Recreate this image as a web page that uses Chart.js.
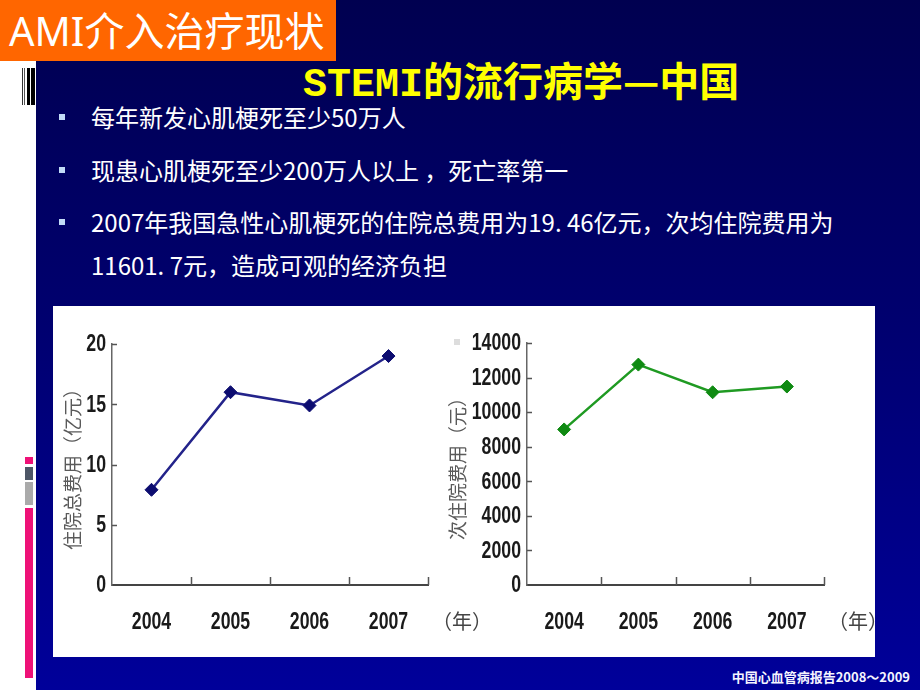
<!DOCTYPE html>
<html>
<head>
<meta charset="utf-8">
<script src="https://cdn.jsdelivr.net/npm/chart.js@4.4.1/dist/chart.umd.min.js"></script>
<style>
  html, body { margin: 0; padding: 0; }
  body { width: 920px; height: 690px; position: relative; overflow: hidden; background: #fff;
         font-family: "Noto Sans CJK SC", sans-serif; }
  .abs { position: absolute; }
  #bg { left: 36px; top: 0; width: 884px; height: 690px;
        background: linear-gradient(to bottom, #000050 0%, #00006e 45%, #00009a 100%); }
  #tag { left: 0; top: 0; width: 336px; height: 61px; background: #ff6600; color: #fff;
         font-family: "Noto Sans", "Noto Sans CJK SC", sans-serif; font-size: 40px; line-height: 61px;
         padding-left: 9px; box-sizing: border-box; white-space: nowrap; }
  #title { left: 303px; top: 56px; color: #ffff00; font-size: 40px; line-height: 46px; font-weight: bold;
           white-space: nowrap; }
  #title .mono { font-family: "Liberation Mono", monospace; }
  .bullet { left: 59px; width: 6px; height: 6px; background: #c2dbf7; }
  .line { left: 91px; color: #fff; font-size: 24px; line-height: 30px; white-space: nowrap; }
  #panel { left: 53px; top: 306px; width: 822px; height: 351px; background: #fff; }
  #src { right: 10px; top: 668px; color: #f4f4ff; font-size: 13px; font-weight: bold; line-height: 18px; }
  .bar { position: absolute; }
</style>
</head>
<body>
<div id="bg" class="abs"></div>
<div id="tag" class="abs">AMI介入治疗现状</div>

<!-- left strip decorations -->
<div class="bar" style="left:22px;top:68px;width:1px;height:37px;background:#333"></div>
<div class="bar" style="left:24px;top:68px;width:1px;height:37px;background:#555"></div>
<div class="bar" style="left:27px;top:68px;width:3px;height:37px;background:#000"></div>
<div class="bar" style="left:31px;top:68px;width:4px;height:37px;background:#000"></div>
<div class="bar" style="left:25px;top:457px;width:8px;height:7px;background:#ee1177"></div>
<div class="bar" style="left:25px;top:467px;width:8px;height:13px;background:#4d5666"></div>
<div class="bar" style="left:25px;top:482px;width:8px;height:23px;background:#aaaaaa"></div>
<div class="bar" style="left:25px;top:508px;width:8px;height:170px;background:#ee1177"></div>

<div id="title" class="abs"><span class="mono">STEMI</span>的流行病学—中国</div>

<div class="abs bullet" style="top:114px"></div>
<div class="abs line" style="top:102px">每年新发心肌梗死至少50万人</div>
<div class="abs bullet" style="top:167px"></div>
<div class="abs line" style="top:155px">现患心肌梗死至少200万人以上 ，死亡率第一</div>
<div class="abs bullet" style="top:219px"></div>
<div class="abs line" style="top:207px">2007年我国急性心肌梗死的住院总费用为19. 46亿元，次均住院费用为</div>
<div class="abs line" style="top:250px">11601. 7元，造成可观的经济负担</div>

<div id="panel" class="abs"></div>
<div class="abs" style="left:454px;top:339px;width:6px;height:6px;background:#ddd"></div>

<canvas id="c1" class="abs" style="left:53px;top:306px" width="427" height="351"></canvas>
<canvas id="c2" class="abs" style="left:440px;top:306px" width="435" height="351"></canvas>

<div id="src" class="abs">中国心血管病报告2008～2009</div>

<script>
// data
const years = ['2004', '2005', '2006', '2007'];
const totalCost = [7.9, 16.0, 14.9, 19.0];          // 住院总费用 (亿元)
const perCaseCost = [9000, 12750, 11150, 11480];    // 次住院费用 (元)
const totalTitle = '住院总费用（亿元）';
const perCaseTitle = '次住院费用（元）';
const yearUnit = '（年）';

const narrow = 0.77; // squeeze Liberation Sans into an Arial Narrow look

function narrowText(ctx, text, x, y, align) {
  ctx.save();
  ctx.translate(x, y);
  ctx.scale(narrow, 1);
  ctx.textAlign = align;
  ctx.fillText(text, 0, 0);
  ctx.restore();
}

// tick labels, inward tick marks and the (年) unit
const axisExtras = {
  id: 'axisExtras',
  afterDraw(chart) {
    const { ctx, chartArea, scales } = chart;
    ctx.save();
    ctx.strokeStyle = '#555';
    ctx.lineWidth = 1.5;
    ctx.beginPath();
    scales.y.ticks.forEach((t, i) => {
      if (i === 0) return;
      const y = Math.round(scales.y.getPixelForTick(i)) + 0.5;
      ctx.moveTo(chartArea.left, y);
      ctx.lineTo(chartArea.left + 5, y);
    });
    for (let i = 1; i <= scales.x.ticks.length; i++) {
      const x = Math.round(scales.x.getPixelForValue(i - 0.5)) + 0.5;
      ctx.moveTo(x, chartArea.bottom);
      ctx.lineTo(x, chartArea.bottom - 8);
    }
    ctx.stroke();

    ctx.fillStyle = '#1a1a1a';
    ctx.font = 'bold 23px "Liberation Sans", Arial';
    ctx.textBaseline = 'middle';
    scales.y.ticks.forEach((t, i) => {
      narrowText(ctx, String(t.value), chartArea.left - 6, scales.y.getPixelForTick(i) + 1, 'right');
    });
    scales.x.ticks.forEach((t, i) => {
      narrowText(ctx, scales.x.getLabelForValue(t.value), scales.x.getPixelForTick(i), chartArea.bottom + 38, 'center');
    });

    ctx.fillStyle = '#444';
    ctx.font = '20px "Noto Sans CJK SC"';
    ctx.textAlign = 'left';
    ctx.fillText(yearUnit, chartArea.right + 4, chartArea.bottom + 36);
    ctx.restore();
  }
};

function makeChart(id, values, color, pointColor, title, yMax, yStep, yWidth, titlePad, rightPad, topPad) {
  const ctx = document.getElementById(id).getContext('2d');
  return new Chart(ctx, {
    type: 'line',
    data: {
      labels: years,
      datasets: [{
        data: values,
        borderColor: color,
        borderWidth: 2.5,
        pointStyle: 'rectRot',
        pointRadius: 6.5,
        pointBackgroundColor: pointColor,
        pointBorderColor: pointColor,
        pointBorderWidth: 1,
        tension: 0,
        clip: false
      }]
    },
    options: {
      responsive: false,
      animation: false,
      devicePixelRatio: 1,
      layout: { padding: { top: topPad, right: rightPad, left: 0, bottom: 0 } },
      plugins: { legend: { display: false }, tooltip: { enabled: false } },
      scales: {
        x: {
          offset: true,
          grid: { display: true, offset: true, drawOnChartArea: false, drawTicks: false },
          border: { display: true, color: '#444', width: 2 },
          ticks: { display: false },
          afterFit(s) { s.height = 72; }
        },
        y: {
          min: 0,
          max: yMax,
          grid: { display: true, drawOnChartArea: false, drawTicks: false },
          border: { display: true, color: '#666', width: 1.5 },
          ticks: { display: false, stepSize: yStep },
          title: {
            display: true,
            text: title,
            color: '#5a5a5a',
            padding: { top: titlePad, bottom: 0 },
            font: { family: '"Noto Sans CJK SC"', size: 19 }
          },
          afterFit(s) { s.width = yWidth; }
        }
      }
    },
    plugins: [axisExtras]
  });
}

makeChart('c1', totalCost, '#23238a', '#0c0c70', totalTitle, 20, 5, 59, 8, 52, 38);
makeChart('c2', perCaseCost, '#1f9a22', '#0f8a12', perCaseTitle, 14000, 2000, 87, 6, 51, 37);
</script>
</body>
</html>
